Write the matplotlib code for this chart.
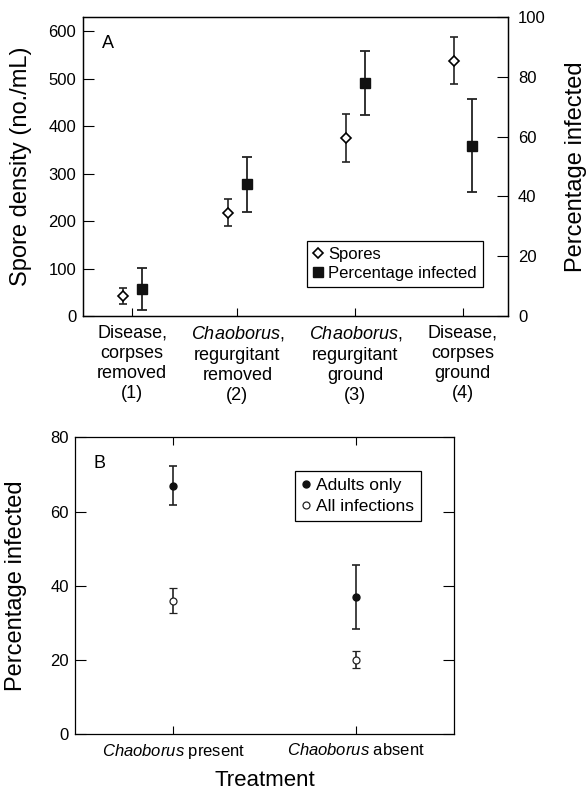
import numpy as np
import matplotlib
matplotlib.use("Agg")
import matplotlib.pyplot as plt
from matplotlib.lines import Line2D

plt.rcParams['font.family'] = ['Liberation Sans', 'DejaVu Sans']
plt.rcParams['mathtext.fontset'] = 'custom'
plt.rcParams['mathtext.it'] = 'Liberation Sans:italic'
plt.rcParams['mathtext.rm'] = 'Liberation Sans'

# Panel A data
treatments_a = ["Disease,\ncorpses\nremoved\n(1)",
                "$\\it{Chaoborus}$,\nregurgitant\nremoved\n(2)",
                "$\\it{Chaoborus}$,\nregurgitant\nground\n(3)",
                "Disease,\ncorpses\nground\n(4)"]
spores = [43, 218, 375, 538]
spores_err = [17, 29, 51, 50]
pct_infected_a = [9, 44, 78, 57]
pct_infected_a_err = [7, 9.3, 10.7, 15.6]

# Panel B data
treatments_b = ["$\\it{Chaoborus}$ present", "$\\it{Chaoborus}$ absent"]
adults_only = [67, 37]
adults_only_err = [5.3, 8.6]
all_infections = [36, 20]
all_infections_err = [3.5, 2.3]

# category positions along x (panel A spacing is uneven in the original)
xa = np.array([0.46, 1.45, 2.56, 3.57])
xb = np.array([1, 2])

fig = plt.figure(figsize=(5.87, 7.92), dpi=100)
ax1 = fig.add_axes([0.1419, 0.601, 0.724, 0.3775])
ax2 = ax1.twinx()
axb = fig.add_axes([0.1272, 0.0732, 0.6468, 0.3746])

# ---- Panel A ----
ax1.errorbar(xa - 0.085, spores, yerr=spores_err, fmt='D', ms=4.6, mfc='white',
             mec='black', mew=1.2, ecolor='#222222', elinewidth=1.2, capsize=2.8,
             capthick=1.2, zorder=3)
ax2.errorbar(xa + 0.09, pct_infected_a, yerr=pct_infected_a_err, fmt='s', ms=7,
             mfc='#111111', mec='#111111', ecolor='#222222', elinewidth=1.3,
             capsize=3.4, capthick=1.3, zorder=3)

ax1.set_xlim(0, 4)
ax1.set_ylim(0, 630)
ax2.set_ylim(0, 100)
ax1.set_yticks(range(0, 601, 100))
ax2.set_yticks(range(0, 101, 20))
ax1.set_xticks(xa)
ax1.set_xticklabels(treatments_a, fontsize=13, linespacing=1.25)
ax1.tick_params(axis='x', direction='in', length=6, pad=6)
ax1.tick_params(axis='y', direction='in', length=8, pad=5, labelsize=12)
ax2.tick_params(axis='y', direction='in', length=8, pad=7, labelsize=12)
for ax in (ax1, ax2):
    for s in ax.spines.values():
        s.set_linewidth(0.9)

ax1.set_ylabel("Spore density (no./mL)", fontsize=17)
ax1.yaxis.set_label_coords(-0.121, 0.5)
ax2.set_ylabel("Percentage infected", fontsize=17)
ax2.yaxis.set_label_coords(1.133, 0.5)
ax1.text(0.058, 0.913, "A", transform=ax1.transAxes, fontsize=13,
         ha='center', va='center')

handles_a = [Line2D([], [], marker='D', ls='none', ms=4.6, mfc='white', mec='black', mew=1.2),
             Line2D([], [], marker='s', ls='none', ms=7, mfc='#111111', mec='#111111')]
leg = ax1.legend(handles_a, ["Spores", "Percentage infected"], loc='lower right',
                 bbox_to_anchor=(0.94, 0.097), borderaxespad=0, fontsize=12,
                 fancybox=False, framealpha=1, edgecolor='black', handlelength=0.6,
                 handletextpad=0.3, borderpad=0.35, labelspacing=0.25)
leg.get_frame().set_linewidth(0.9)
ax1.set_zorder(ax2.get_zorder() + 1)
ax1.patch.set_visible(False)

# ---- Panel B ----
axb.errorbar(xb, adults_only, yerr=adults_only_err, fmt='o', ms=5, mfc='#111111',
             mec='#111111', ecolor='#222222', elinewidth=1.2, capsize=3,
             capthick=1.2, zorder=3)
axb.errorbar(xb, all_infections, yerr=all_infections_err, fmt='o', ms=5, mfc='white',
             mec='#222222', mew=0.9, ecolor='#222222', elinewidth=1.2, capsize=3,
             capthick=1.2, zorder=3)
axb.set_xlim(0.46, 2.54)
axb.set_ylim(0, 80)
axb.set_yticks(range(0, 81, 20))
axb.set_xticks(xb)
axb.set_xticklabels(treatments_b, fontsize=12)
axb.tick_params(axis='x', direction='in', length=6, pad=6, top=True)
axb.tick_params(axis='y', direction='in', length=8, pad=4, labelsize=12, right=True)
for s in axb.spines.values():
    s.set_linewidth(0.9)
axb.set_ylabel("Percentage infected", fontsize=17)
axb.yaxis.set_label_coords(-0.126, 0.5)
axb.set_xlabel("Treatment", fontsize=16)
axb.xaxis.set_label_coords(0.5, -0.121)
axb.text(0.065, 0.913, "B", transform=axb.transAxes, fontsize=13,
         ha='center', va='center')

handles_b = [Line2D([], [], marker='o', ls='none', ms=5, mfc='#111111', mec='#111111'),
             Line2D([], [], marker='o', ls='none', ms=5, mfc='white', mec='#222222', mew=0.9)]
legb = axb.legend(handles_b, ["Adults only", "All infections"], loc='upper right',
                  bbox_to_anchor=(0.911, 0.886), borderaxespad=0, fontsize=12.5,
                  fancybox=False, framealpha=1, edgecolor='black', handlelength=0.5,
                  handletextpad=0.3, borderpad=0.4, labelspacing=0.3)
legb.get_frame().set_linewidth(0.9)

fig.savefig("out.png", dpi=100)
